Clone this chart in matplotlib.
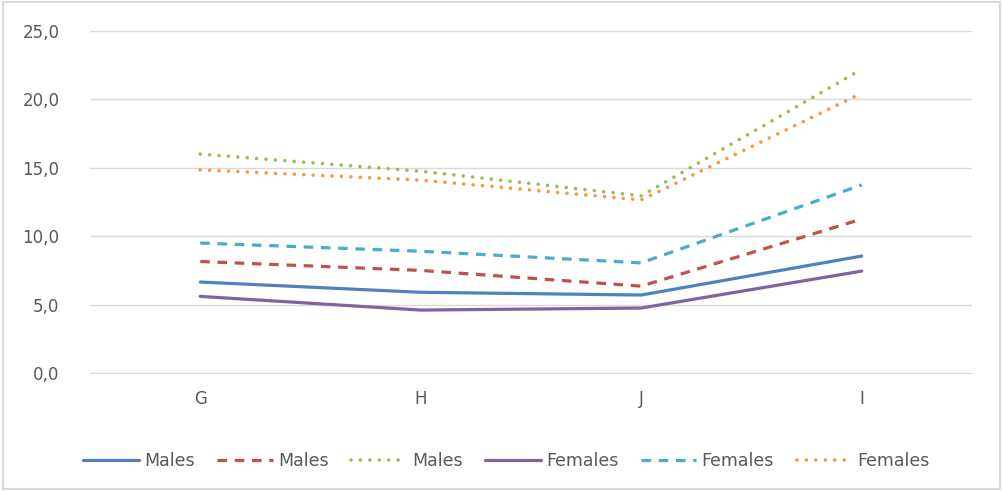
import matplotlib
matplotlib.use('Agg')
import numpy as np
from matplotlib import pyplot as plt

# DATA
categories = ['G', 'H', 'J', 'I']
males_1 = [6.65, 5.9, 5.7, 8.55]
males_2 = [8.15, 7.5, 6.35, 11.25]
males_3 = [16.0, 14.75, 12.95, 22.2]
females_1 = [5.6, 4.6, 4.75, 7.45]
females_2 = [9.5, 8.9, 8.05, 13.75]
females_3 = [14.85, 14.1, 12.65, 20.45]
labels = ['Males', 'Males', 'Males', 'Females', 'Females', 'Females']

plt.rcParams['font.family'] = ['DejaVu Sans']

fig = plt.figure(figsize=(10.03, 4.91), dpi=100)
ax = fig.add_axes([0.0897, 0.2403, 0.9691 - 0.0897, 0.9369 - 0.2403])

x = np.arange(len(categories))
series = [males_1, males_2, males_3, females_1, females_2, females_3]
colors = ['#4F81BD', '#C0504D', '#9BBB59', '#8064A2', '#4BACC6', '#F79646']
dash = (0, (3, 2.4))
dot = (0, (0.01, 2.6))
styles = ['-', dash, dot, '-', dash, dot]

for vals, c, ls, lab in zip(series, colors, styles, labels):
    cap = 'round' if ls == dot else 'butt'
    w = 2.6 if ls == dot else 2.3
    ax.plot(x, vals, color=c, linestyle=ls, lw=w, label=lab,
            dash_capstyle=cap, solid_capstyle='round')

ax.set_xlim(-0.5, 3.5)
ax.set_ylim(0, 25)
ax.set_yticks(np.arange(0, 26, 5))
ax.set_yticklabels([f'{v:.1f}'.replace('.', ',') for v in np.arange(0, 26, 5)])
ax.set_xticks(x)
ax.set_xticklabels(categories)
ax.yaxis.grid(True, color='#D9D9D9', lw=1)
ax.set_axisbelow(True)
for s in ax.spines.values():
    s.set_visible(False)
ax.spines['bottom'].set_visible(True)
ax.spines['bottom'].set_color('#D9D9D9')
ax.tick_params(length=0, labelsize=12, colors='#595959', pad=12)
ax.tick_params(axis='y', pad=22)

leg = fig.legend(loc='center', bbox_to_anchor=(0.505, 0.061), ncol=6, frameon=False,
                 fontsize=12.5, handlelength=3.2, columnspacing=1.3, handletextpad=0.3)
for t in leg.get_texts():
    t.set_color('#595959')

# outer border
fig.patches.append(plt.Rectangle((0.003, 0.004), 0.994, 0.992, transform=fig.transFigure,
                                 fill=False, edgecolor='#D9D9D9', lw=1.5))

fig.savefig('out.png', dpi=100)
